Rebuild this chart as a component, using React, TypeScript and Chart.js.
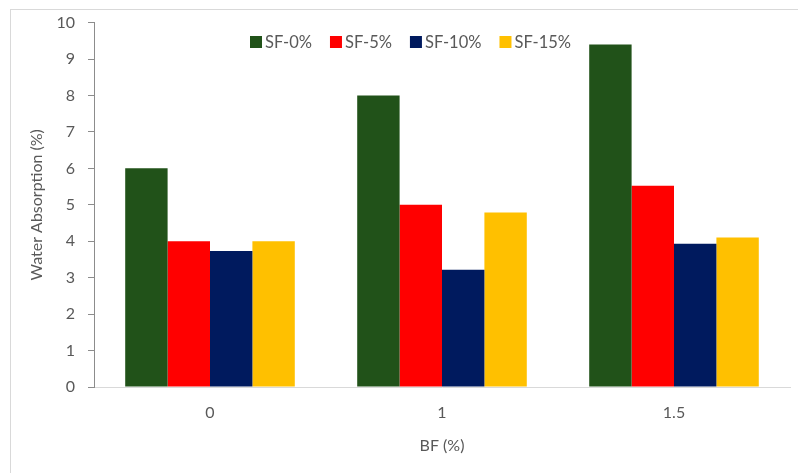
import React, { useEffect, useRef } from "react";
import { Chart, registerables } from "chart.js";

Chart.register(...registerables);

const categories = ["0", "1", "1.5"];
const seriesNames = ["SF-0%", "SF-5%", "SF-10%", "SF-15%"];
const sf0 = [6.0, 8.0, 9.4];
const sf5 = [4.0, 5.0, 5.52];
const sf10 = [3.73, 3.22, 3.93];
const sf15 = [4.0, 4.79, 4.1];
const colors = ["#215219", "#FF0000", "#001A5E", "#FFC000"];
const yTicks = [0, 1, 2, 3, 4, 5, 6, 7, 8, 9, 10];

const FONT = "Lato, 'Liberation Sans', sans-serif";
const GRAY = "#595959";

const legendPlugin = {
  id: "customLegend",
  afterDraw(chart: any) {
    const ctx = chart.ctx;
    ctx.save();
    ctx.font = `16.5px ${FONT}`;
    ctx.textBaseline = "middle";
    ctx.textAlign = "left";
    let x = 250;
    const yc = 42;
    chart.data.datasets.forEach((ds: any) => {
      ctx.fillStyle = ds.backgroundColor;
      ctx.fillRect(x, yc - 6, 12, 12);
      x += 15;
      ctx.fillStyle = GRAY;
      ctx.fillText(ds.label, x, yc + 1);
      x += ctx.measureText(ds.label).width + 18;
    });
    ctx.restore();
  },
};

export default function App() {
  const ref = useRef<HTMLCanvasElement | null>(null);
  useEffect(() => {
    if (!ref.current) return;
    const values = [sf0, sf5, sf10, sf15];
    const chart = new Chart(ref.current, {
      type: "bar",
      data: {
        labels: categories,
        datasets: seriesNames.map((name, i) => ({
          label: name,
          data: values[i],
          backgroundColor: colors[i],
          borderWidth: 0,
          barPercentage: 1,
          categoryPercentage: 0.731,
        })),
      },
      plugins: [legendPlugin],
      options: {
        responsive: false,
        animation: false,
        maintainAspectRatio: false,
        layout: { padding: { left: 0, top: 21, right: 8, bottom: 0 } },
        plugins: {
          legend: { display: false },
          tooltip: { enabled: false },
        },
        scales: {
          x: {
            grid: { display: false, drawTicks: false },
            border: { display: true, color: "#d9d9d9", width: 1 },
            ticks: { color: GRAY, font: { family: FONT, size: 16 }, padding: 16 },
            title: {
              display: true,
              text: "BF (%)",
              color: GRAY,
              font: { family: FONT, size: 16 },
              padding: { top: 0, bottom: 18 },
            },
            afterFit(scale: any) {
              scale.height = 86;
            },
          },
          y: {
            min: 0,
            max: 10,
            afterBuildTicks(scale: any) {
              scale.ticks = yTicks.map((v) => ({ value: v }));
            },
            grid: {
              drawOnChartArea: false,
              drawTicks: true,
              tickLength: 6,
              color: "#8c8c8c",
            },
            border: { display: true, color: "#8c8c8c", width: 1 },
            ticks: { color: GRAY, font: { family: FONT, size: 16 }, padding: 13 },
            title: {
              display: true,
              text: "Water Absorption (%)",
              color: GRAY,
              font: { family: FONT, size: 16 },
              padding: { top: 27, bottom: 0 },
            },
            afterFit(scale: any) {
              scale.width = 94;
            },
          },
        },
      },
    });
    return () => chart.destroy();
  }, []);

  return (
    <div style={{ position: "fixed", left: 0, top: 0, width: 798, height: 473, background: "#fff" }}>
      <div
        style={{
          position: "absolute",
          left: 10,
          top: 9,
          width: 788,
          height: 464,
          borderLeft: "1px solid #d9d9d9",
          borderTop: "1px solid #d9d9d9",
        }}
      />
      <canvas ref={ref} width={798} height={473} style={{ position: "absolute", left: 0, top: 0 }} />
    </div>
  );
}
